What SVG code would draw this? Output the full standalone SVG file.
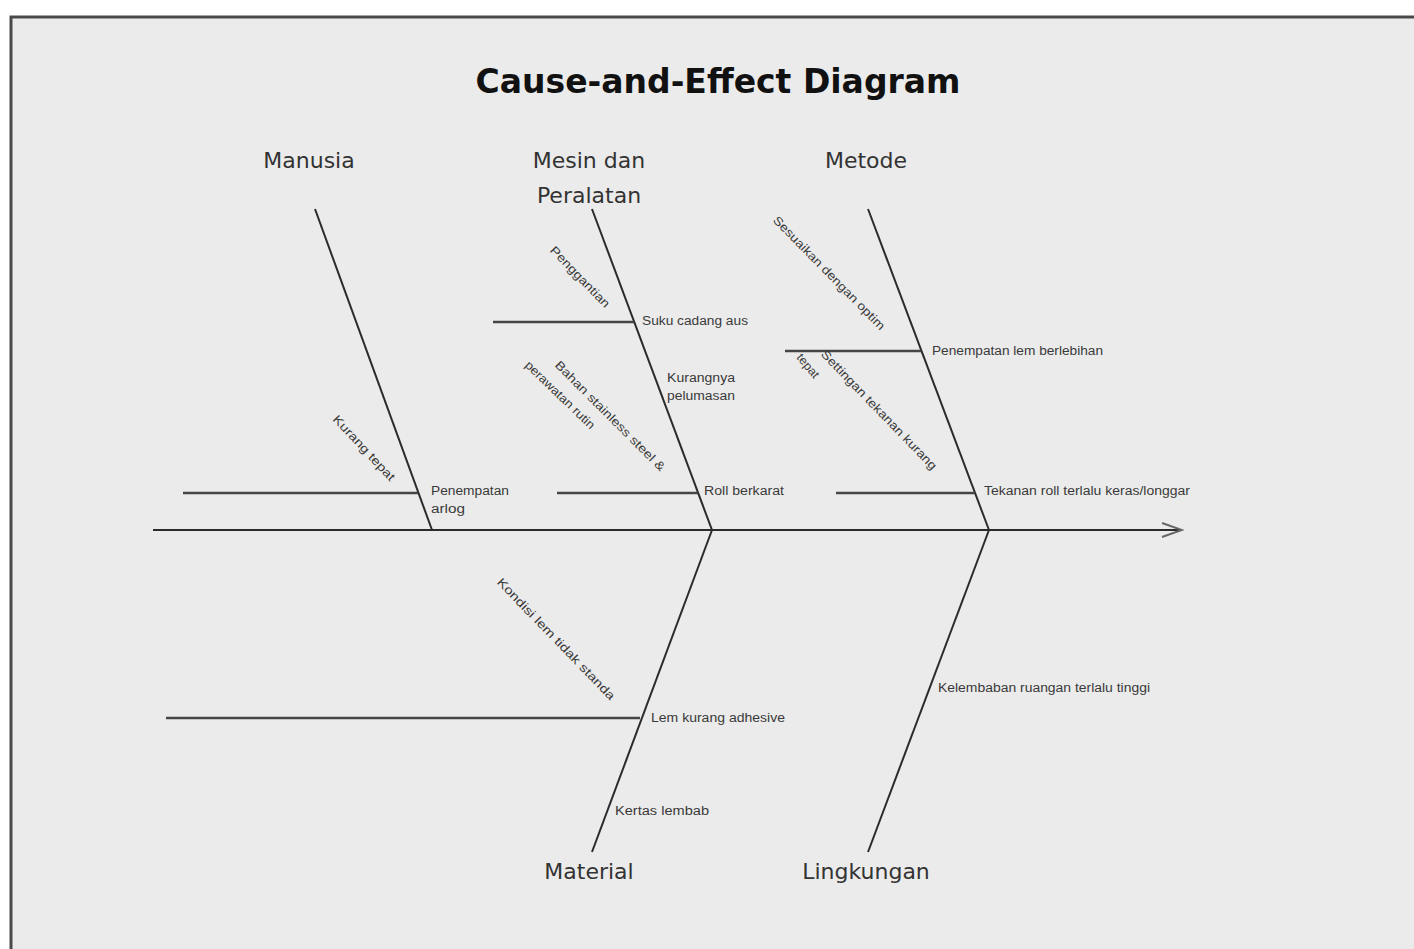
<svg xmlns="http://www.w3.org/2000/svg" width="1414" height="949" viewBox="0 0 1414 949">
<defs>
<style>
.bg{fill:#ebebeb;stroke:#4a4a4a;stroke-width:3}
.bone{stroke:#2b2b2b;stroke-width:2;fill:none}
.sub{stroke:#454545;stroke-width:2.5;fill:none}
.title{font-family:"DejaVu Sans",sans-serif;font-weight:bold;font-size:34px;fill:#111;text-anchor:middle}
.cat{font-family:"DejaVu Sans",sans-serif;font-size:22px;fill:#333;text-anchor:middle}
.lbl{font-family:"Liberation Sans",Arial,sans-serif;font-size:12px;fill:#3a3a3a}
.rot{font-family:"Liberation Sans",Arial,sans-serif;font-size:12px;fill:#3a3a3a;text-anchor:middle}
</style>
<marker id="arr" viewBox="0 0 24 16" refX="22" refY="8" markerWidth="24" markerHeight="16" markerUnits="userSpaceOnUse" orient="auto">
<path d="M2,1 L22,8 L2,15" fill="none" stroke="#666" stroke-width="2"/>
</marker>
</defs>
<rect x="0" y="0" width="1414" height="949" fill="#ffffff"/>
<rect class="bg" x="11" y="17" width="1420" height="950"/>
<text class="title" x="718" y="93" textLength="485" lengthAdjust="spacingAndGlyphs">Cause-and-Effect Diagram</text>

<g id="connectors">
<line class="bone" x1="153" y1="530" x2="1182" y2="530" stroke="#666" marker-end="url(#arr)"/>
<line class="bone" x1="315" y1="209" x2="432" y2="530"/>
<line class="bone" x1="592" y1="209" x2="712" y2="530"/>
<line class="bone" x1="868" y1="209" x2="989" y2="530"/>
<line class="bone" x1="712" y1="530" x2="592" y2="852"/>
<line class="bone" x1="989" y1="530" x2="868" y2="852"/>
<line class="sub" x1="183" y1="493" x2="418" y2="493"/>
<line class="sub" x1="493" y1="322" x2="634" y2="322"/>
<line class="sub" x1="557" y1="493" x2="698" y2="493"/>
<line class="sub" x1="785" y1="351" x2="921" y2="351"/>
<line class="sub" x1="836" y1="493" x2="975" y2="493"/>
<line class="sub" x1="166" y1="718" x2="640" y2="718"/>
</g>

<g id="manusia">
<text class="cat" x="309" y="168">Manusia</text>
<text class="rot" transform="translate(364,448) rotate(47)" y="4" textLength="85" lengthAdjust="spacingAndGlyphs">Kurang tepat</text>
<text class="lbl" x="431" y="495" textLength="78" lengthAdjust="spacingAndGlyphs">Penempatan</text>
<text class="lbl" x="431" y="513" textLength="34" lengthAdjust="spacingAndGlyphs">arlog</text>
</g>

<g id="mesin">
<text class="cat" x="589" y="168">Mesin dan</text>
<text class="cat" x="589" y="203">Peralatan</text>
<text class="rot" transform="translate(580,277) rotate(46)" y="4" textLength="80" lengthAdjust="spacingAndGlyphs">Penggantian</text>
<text class="lbl" x="642" y="325" textLength="106" lengthAdjust="spacingAndGlyphs">Suku cadang aus</text>
<text class="lbl" x="667" y="382" textLength="68" lengthAdjust="spacingAndGlyphs">Kurangnya</text>
<text class="lbl" x="667" y="400" textLength="68" lengthAdjust="spacingAndGlyphs">pelumasan</text>
<text class="rot" transform="translate(610,416) rotate(45)" y="4" textLength="150" lengthAdjust="spacingAndGlyphs">Bahan stainless steel &amp;</text>
<text class="rot" transform="translate(560,395) rotate(44)" y="4" textLength="92" lengthAdjust="spacingAndGlyphs">perawatan rutin</text>
<text class="lbl" x="704" y="495" textLength="80" lengthAdjust="spacingAndGlyphs">Roll berkarat</text>
</g>

<g id="metode">
<text class="cat" x="866" y="168">Metode</text>
<text class="rot" transform="translate(829,273) rotate(45.5)" y="4" textLength="154" lengthAdjust="spacingAndGlyphs">Sesuaikan dengan optim</text>
<text class="lbl" x="932" y="355" textLength="171" lengthAdjust="spacingAndGlyphs">Penempatan lem berlebihan</text>
<text class="rot" transform="translate(879,410) rotate(46)" y="4" textLength="161" lengthAdjust="spacingAndGlyphs">Settingan tekanan kurang</text>
<text class="rot" transform="translate(808,366) rotate(50)" y="4" textLength="28" lengthAdjust="spacingAndGlyphs">tepat</text>
<text class="lbl" x="984" y="495" textLength="206" lengthAdjust="spacingAndGlyphs">Tekanan roll terlalu keras/longgar</text>
</g>

<g id="material">
<text class="cat" x="589" y="879">Material</text>
<text class="rot" transform="translate(556,639) rotate(46)" y="4" textLength="164" lengthAdjust="spacingAndGlyphs">Kondisi lem tidak standa</text>
<text class="lbl" x="651" y="722" textLength="134" lengthAdjust="spacingAndGlyphs">Lem kurang adhesive</text>
<text class="lbl" x="615" y="815" textLength="94" lengthAdjust="spacingAndGlyphs">Kertas lembab</text>
</g>

<g id="lingkungan">
<text class="cat" x="866" y="879">Lingkungan</text>
<text class="lbl" x="938" y="692" textLength="212" lengthAdjust="spacingAndGlyphs">Kelembaban ruangan terlalu tinggi</text>
</g>
</svg>
